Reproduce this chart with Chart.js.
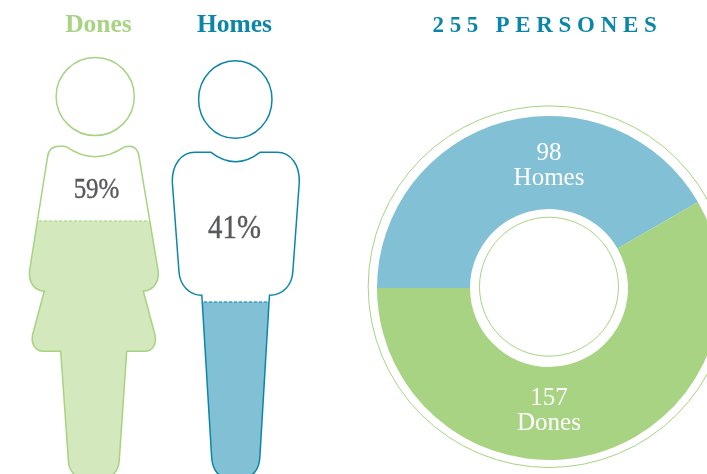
<!DOCTYPE html>
<html>
<head>
<meta charset="utf-8">
<style>
html,body{margin:0;padding:0;background:#fff;overflow:hidden;width:707px;height:474px}
#stage{position:relative;width:707px;height:474px;overflow:hidden}
canvas{position:absolute;left:0;top:0}
</style>
<script src="https://cdn.jsdelivr.net/npm/chart.js@4"></script>
</head>
<body>
<div id="stage">
<canvas id="donut" width="760" height="474" style="width:760px;height:474px"></canvas>
<canvas id="figures" width="330" height="500" style="width:330px;height:500px"></canvas>
</div>
<script>
const categories = ['Dones', 'Homes'];
const percentages = [59, 41];
const counts = [157, 98];
const totalLabel = '255 PERSONES';
// Slice shares as measured on the picture (Homes sweeps 150 degrees there).
const donutLabels = ['Homes', 'Dones'];
const donutCounts = [98, 157];
const donutDrawnShare = [41.67, 58.33];

const GREEN = '#a7d382', GREEN_LIGHT = '#d3e8bc', BLUE = '#0c86a8', BLUE_LIGHT = '#82c0d5';
const SERIF = '"Liberation Serif", serif';
const GREY = '#58595b';

function womanBody(c) {
  c.moveTo(66.5, 146.8);
  c.quadraticCurveTo(95, 166.5, 124.5, 146.8);
  c.lineTo(129, 146.3);
  c.bezierCurveTo(135, 146.3, 138.6, 151, 139.3, 158.3);
  c.lineTo(158.2, 271);
  c.bezierCurveTo(159.5, 283, 152, 291, 143.3, 291);
  c.lineTo(155, 335);
  c.bezierCurveTo(157, 345, 152, 351.3, 145, 351.3);
  c.lineTo(126.7, 351.3);
  c.lineTo(119.2, 461);
  c.bezierCurveTo(118.5, 471, 112, 478, 104, 478);
  c.lineTo(84, 478);
  c.bezierCurveTo(75, 478, 69, 471, 68.4, 461);
  c.lineTo(60.7, 351.3);
  c.lineTo(43, 351.3);
  c.bezierCurveTo(36, 351.3, 31, 345, 32.5, 335);
  c.lineTo(44.3, 291);
  c.bezierCurveTo(35, 291, 28.3, 283, 29.5, 271);
  c.lineTo(47.3, 158.3);
  c.bezierCurveTo(48, 151, 52, 146.3, 59, 146.3);
  c.lineTo(63, 146.3);
  c.closePath();
}
function manBody(c) {
  c.moveTo(211, 152.3);
  c.quadraticCurveTo(235.7, 171, 260, 152.3);
  c.lineTo(277, 152.3);
  c.bezierCurveTo(291, 152.3, 299.6, 165, 299.3, 182);
  c.lineTo(292.8, 272);
  c.bezierCurveTo(292, 285, 283, 295.3, 269.5, 295.3);
  c.lineTo(269, 303);
  c.lineTo(259.8, 458);
  c.bezierCurveTo(259, 470, 252, 478, 243, 478);
  c.lineTo(228, 478);
  c.bezierCurveTo(219, 478, 212.5, 470, 211.7, 458);
  c.lineTo(202.3, 303);
  c.lineTo(201.8, 295.3);
  c.bezierCurveTo(189, 295.3, 180, 285, 179, 272);
  c.lineTo(172.3, 182);
  c.bezierCurveTo(172, 165, 181, 152.3, 195, 152.3);
  c.closePath();
}
const bodies = [womanBody, manBody];
const heads = [
  {x: 95.2, y: 96.5, rx: 39.1, ry: 39.1},
  {x: 235.3, y: 99.5, rx: 36.7, ry: 38.8}
];
const figureColors = [GREEN, BLUE];
const fillColors = [GREEN_LIGHT, BLUE_LIGHT];

const figurePlugin = {
  id: 'figurePlugin',
  beforeDatasetsDraw(chart) {
    const c = chart.ctx;
    c.save();
    c.beginPath();
    bodies.forEach(b => b(c));
    c.clip();
  },
  afterDatasetsDraw(chart) {
    const c = chart.ctx;
    c.restore();
    const meta = chart.getDatasetMeta(0);
    const y = chart.scales.y;
    bodies.forEach((b, i) => {
      c.save();
      c.beginPath();
      b(c);
      c.clip();
      const bar = meta.data[i];
      c.beginPath();
      c.setLineDash([3, 2]);
      c.lineWidth = 1.2;
      c.strokeStyle = figureColors[i];
      const py = y.getPixelForValue(percentages[i]);
      c.moveTo(bar.x - bar.width / 2, py);
      c.lineTo(bar.x + bar.width / 2, py);
      c.stroke();
      c.restore();

      c.save();
      c.strokeStyle = figureColors[i];
      c.lineWidth = 1.5;
      c.beginPath();
      b(c);
      c.stroke();
      c.beginPath();
      const h = heads[i];
      c.ellipse(h.x, h.y, h.rx, h.ry, 0, 0, Math.PI * 2);
      c.stroke();
      c.restore();
    });

    c.save();
    c.textAlign = 'center';
    c.textBaseline = 'alphabetic';
    c.font = 'bold 25.5px ' + SERIF;
    c.fillStyle = GREEN;
    c.fillText(categories[0], 98.5, 32);
    c.fillStyle = BLUE;
    c.fillText(categories[1], 234.5, 32);
    c.fillStyle = GREY;
    c.strokeStyle = GREY;
    c.lineWidth = 0.4;
    const posPct = [[96.5, 198], [234.5, 237.5]];
    const sizePct = [29, 33.5];
    percentages.forEach((p, i) => {
      const t = p + '%';
      c.save();
      c.font = sizePct[i] + 'px ' + SERIF;
      c.translate(posPct[i][0], posPct[i][1]);
      c.scale(0.86, 1);
      c.fillText(t, 0, 0);
      c.strokeText(t, 0, 0);
      c.restore();
    });
    c.restore();
  }
};

new Chart(document.getElementById('figures'), {
  type: 'bar',
  data: {
    labels: categories,
    datasets: [{
      data: percentages,
      backgroundColor: fillColors,
      borderWidth: 0,
      barPercentage: 1,
      categoryPercentage: 1
    }]
  },
  options: {
    responsive: false,
    animation: false,
    events: [],
    layout: {padding: {left: 14, right: 16, top: 36.5, bottom: 13.5}},
    plugins: {legend: {display: false}, tooltip: {enabled: false}, title: {display: false}},
    scales: {
      x: {display: false},
      y: {display: false, min: 0, max: 100}
    }
  },
  plugins: [figurePlugin]
});

const donutPlugin = {
  id: 'donutPlugin',
  afterDraw(chart) {
    const c = chart.ctx;
    const arc = chart.getDatasetMeta(0).data[0];
    const cx = arc.x, cy = arc.y;
    c.save();
    c.strokeStyle = GREEN;
    c.lineWidth = 1;
    c.beginPath();
    c.arc(cx, cy - 1.3, arc.outerRadius + 8.8, 0, Math.PI * 2);
    c.stroke();
    c.beginPath();
    c.arc(cx, cy - 1.3, arc.innerRadius - 9.5, 0, Math.PI * 2);
    c.stroke();
    c.textAlign = 'center';
    c.textBaseline = 'alphabetic';
    c.fillStyle = '#ffffff';
    c.font = '25px ' + SERIF;
    c.fillText(String(donutCounts[0]), cx, cy - 128);
    c.fillText(donutLabels[0], cx, cy - 103);
    c.fillText(String(donutCounts[1]), cx, cy + 117);
    c.fillText(donutLabels[1], cx, cy + 142);
    c.font = 'bold 23px ' + SERIF;
    c.fillStyle = BLUE;
    c.letterSpacing = '5.7px';
    c.fillText(totalLabel, 547.5, 32);
    c.restore();
  }
};

new Chart(document.getElementById('donut'), {
  type: 'doughnut',
  data: {
    labels: donutLabels,
    datasets: [{
      data: donutDrawnShare,
      backgroundColor: [BLUE_LIGHT, GREEN],
      borderWidth: 0
    }]
  },
  options: {
    responsive: false,
    animation: false,
    events: [],
    rotation: -90,
    cutout: 79,
    radius: 172,
    layout: {padding: {left: 377, right: 39, top: 116, bottom: 14}},
    plugins: {legend: {display: false}, tooltip: {enabled: false}, title: {display: false}}
  },
  plugins: [donutPlugin]
});
</script>
</body>
</html>
